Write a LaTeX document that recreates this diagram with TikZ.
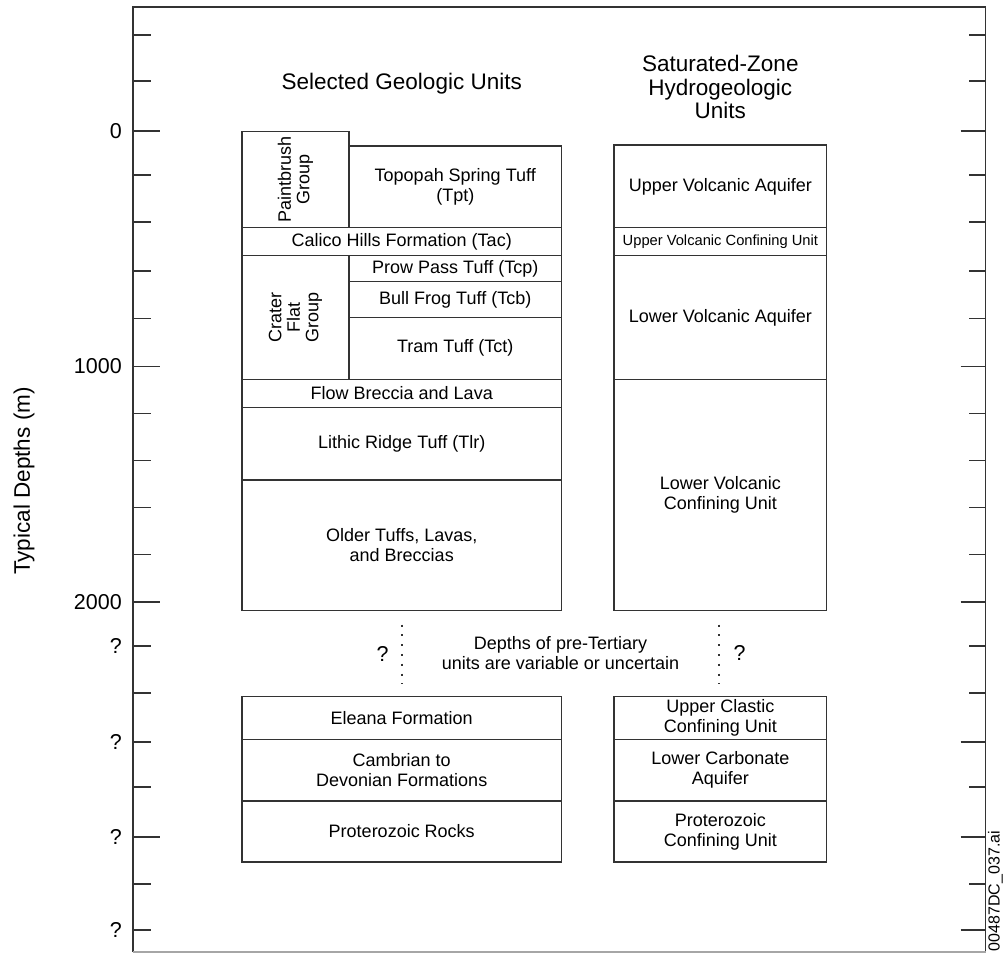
\documentclass[tikz,border=0pt]{standalone}
\usepackage{fontspec}
\setmainfont{Liberation Sans}
\begin{document}
\begin{tikzpicture}[x=1pt,y=-1pt,
  ln/.style={draw=black!80, line width=1.4pt},
  unit/.style={ln, rectangle, inner sep=0pt, outer sep=0pt, align=center, text=black,
     font=\fontsize{18pt}{20pt}\selectfont},
  small/.style={font=\fontsize{14.7pt}{16pt}\selectfont},
  vert/.style={rotate=90, align=center, font=\fontsize{18pt}{18.5pt}\selectfont},
  title/.style={align=center, font=\fontsize{22.5pt}{23.5pt}\selectfont},
  axlab/.style={anchor=east, inner sep=0pt, font=\fontsize{21.5pt}{22pt}\selectfont},
  tick/.style={draw=black!80, line width=1.4pt},
  dots/.style={draw=black!80, line width=1.8pt, dash pattern=on 2pt off 7.8pt}
]
\useasboundingbox (0,0) rectangle (1008,953);
% frame
\draw[tick] (133,952) -- (133,7) -- (985.5,7) -- (985.5,952);
\draw[draw=black!35, line width=1.2pt] (133,952) -- (985.5,952);
% ticks
\foreach \y in {35,81,175,222,271,318.5,413.5,460.5,507.5,554.5,646,693,742,787,884,930}{
  \draw[tick] (133,\y) -- (151,\y);}
\foreach \y in {131,366.5,602,837}{
  \draw[tick] (133,\y) -- (159.5,\y);}
\foreach \y in {35,81,175,222,271,318.5,413.5,460.5,507.5,554.5,646,693,787,884}{
  \draw[tick] (969,\y) -- (985.5,\y);}
\foreach \y in {131,366.5,602,742,837,930}{
  \draw[tick] (960.5,\y) -- (985.5,\y);}
% axis labels
\node[axlab] (l0) at (122,131) {0};
\node[axlab] (l1000) at (122,366.5) {1000};
\node[axlab] (l2000) at (122,602) {2000};
\node[axlab] (q1) at (122,646) {?};
\node[axlab] (q2) at (122,742) {?};
\node[axlab] (q3) at (122,837) {?};
\node[axlab] (q4) at (122,930) {?};
\node[rotate=90, font=\fontsize{22.5pt}{23pt}\selectfont] (ylab) at (24,481) {Typical Depths (m)};
\node[rotate=90, font=\fontsize{16pt}{17pt}\selectfont, inner sep=0pt] (fname) at (995.5,891) {00487DC\_037.ai};
% titles
\node[title] (t1) at (401.75,84) {Selected Geologic Units};
\node[title] (t2) at (720.35,87) {Saturated-Zone\\Hydrogeologic\\Units};
% left column
\node[unit, minimum width=107pt, minimum height=95.6pt] (paint) at (295.5,179.5) {};
\node[vert] (painttxt) at (paint.center) {Paintbrush\\Group};
\node[unit, minimum width=212.5pt, minimum height=81.3pt] (topo) at (455.25,186.65) {Topopah Spring Tuff\\(Tpt)};
\node[unit, minimum width=319.5pt, minimum height=28.4pt] (calico) at (401.75,241.5) {Calico Hills Formation (Tac)};
\node[unit, minimum width=107pt, minimum height=123.6pt] (crater) at (295.5,317.5) {};
\node[vert] (cratertxt) at (crater.center) {Crater\\Flat\\Group};
\node[unit, minimum width=212.5pt, minimum height=26pt] (prow) at (455.25,268.7) {Prow Pass Tuff (Tcp)};
\node[unit, minimum width=212.5pt, minimum height=35.6pt] (bull) at (455.25,299.5) {Bull Frog Tuff (Tcb)};
\node[unit, minimum width=212.5pt, minimum height=62pt] (tram) at (455.25,348.3) {Tram Tuff (Tct)};
\node[unit, minimum width=319.5pt, minimum height=28pt] (flow) at (401.75,393.3) {Flow Breccia and Lava};
\node[unit, minimum width=319.5pt, minimum height=72.7pt] (lithic) at (401.75,443.65) {Lithic Ridge Tuff (Tlr)};
\node[unit, minimum width=319.5pt, minimum height=130.3pt] (older) at (401.75,545.15) {Older Tuffs, Lavas,\\and Breccias};
% right column
\node[unit, minimum width=212.7pt, minimum height=82.7pt] (uva) at (720.35,186.35) {Upper Volcanic Aquifer};
\node[unit, small, minimum width=212.7pt, minimum height=28pt] (uvcu) at (720.35,241.7) {Upper Volcanic Confining Unit};
\node[unit, minimum width=212.7pt, minimum height=123.6pt] (lva) at (720.35,317.5) {Lower Volcanic Aquifer};
\node[unit, minimum width=212.7pt, minimum height=231pt] (lvcu) at (720.35,494.8) {Lower Volcanic\\Confining Unit};
% lower left
\node[unit, minimum width=319.5pt, minimum height=42.6pt] (eleana) at (401.75,718) {Eleana Formation};
\node[unit, minimum width=319.5pt, minimum height=61.7pt] (cambrian) at (401.75,770.15) {Cambrian to\\Devonian Formations};
\node[unit, minimum width=319.5pt, minimum height=61pt] (prock) at (401.75,831.5) {Proterozoic Rocks};
% lower right
\node[unit, minimum width=212.7pt, minimum height=42.6pt] (ucc) at (720.35,718) {Upper Clastic\\Confining Unit};
\node[unit, minimum width=212.7pt, minimum height=61.7pt] (lca) at (720.35,770.15) {Lower Carbonate\\Aquifer};
\node[unit, minimum width=212.7pt, minimum height=61pt] (pcu) at (720.35,831.5) {Proterozoic\\Confining Unit};
% uncertainty
\coordinate (d1a) at (401.7,624.5);
\coordinate (d1b) at (401.7,684);
\coordinate (d2a) at (719.3,624.5);
\coordinate (d2b) at (719.3,684);
\draw[dots] (d1a) -- (d1b);
\draw[dots] (d2a) -- (d2b);
\node[font=\fontsize{21.5pt}{22pt}\selectfont] (qa) at (382.5,654) {?};
\node[font=\fontsize{21.5pt}{22pt}\selectfont] (qb) at (739.5,653) {?};
\node[align=center, font=\fontsize{18pt}{19.5pt}\selectfont] (note) at (560.5,653) {Depths of pre-Tertiary\\units are variable or uncertain};
\end{tikzpicture}
\end{document}
